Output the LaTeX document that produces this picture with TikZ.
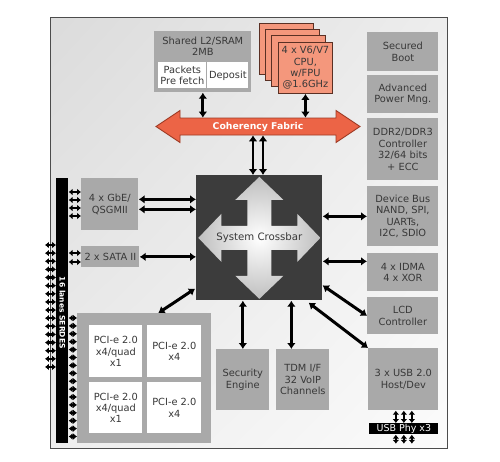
\documentclass[tikz,border=0pt]{standalone}
\usepackage{fontspec}
\setmainfont{DejaVu Sans}
\usetikzlibrary{arrows.meta,calc,shadings}

\definecolor{boxgray}{HTML}{A9A9A9}
\definecolor{txtgray}{HTML}{383838}
\definecolor{xbargray}{HTML}{3C3C3C}
\definecolor{cpufill}{HTML}{F4977C}
\definecolor{cpuline}{HTML}{5A3024}
\definecolor{fabfill}{HTML}{EC6446}
\definecolor{fabline}{HTML}{9E3A24}

\tikzset{
  sz/.style 2 args={minimum width=#1*0.02cm, minimum height=#2*0.02cm},
  lbl/.style={text=txtgray, align=center, inner sep=0pt, font=\fontsize{5.6}{6.5}\selectfont},
  blk/.style={lbl, fill=boxgray, anchor=north west},
  cell/.style={lbl, fill=white, anchor=north west},
  cpubox/.style={fill=cpufill, draw=cpuline, line width=0.5pt},
  bus/.style={line width=1.7pt, {Latex[length=3.4pt,width=5pt]}-{Latex[length=3.4pt,width=5pt]}},
  lane/.style={line width=1.3pt, {Latex[length=2.2pt,width=3.8pt]}-{Latex[length=2.2pt,width=3.8pt]}},
}

\begin{document}
\begin{tikzpicture}[x=0.02cm, y=-0.02cm]
\useasboundingbox (0,0) rectangle (500,461);

% chip outline
\shade[upper left=gray!28, upper right=gray!14, lower left=gray!14, lower right=gray!3] (50,17) rectangle (447,448);
\draw[gray!60!black, line width=0.5pt] (50,17) rectangle (447,448);

% shared L2
\node[blk, sz={97}{61}] (l2) at (154,31) {};
\node[lbl] (l2name) at ($(l2.north)+(0,15)$) {Shared L2/SRAM\\2MB};
\node[cell, sz={48}{26}] (prefetch) at (158,62) {Packets\\Pre fetch};
\node[cell, sz={41}{26}] (deposit) at (207,62) {Deposit};

% cpu cluster
\foreach \k in {3,2,1}
  \draw[cpubox] (278-6.3*\k,42-6.3*\k) rectangle ++(54,51);
\node[cpubox, lbl, sz={54}{51}, anchor=north west] (cpu) at (278,42) {4 x V6/V7\\CPU,\\w/FPU\\@1.6GHz};

% coherency fabric
\coordinate (fc) at (258,126.5);
\begin{scope}[shift={(fc)}]
  \fill[fabfill, draw=fabline, line width=0.5pt] (-102,0) -- (-78,-16) -- (-78,-8.5) -- (78,-8.5) -- (78,-16)
    -- (102,0) -- (78,16) -- (78,8.5) -- (-78,8.5) -- (-78,16) -- cycle;
\end{scope}
\node[text=white, inner sep=0pt, sz={156}{17}, font=\bfseries\fontsize{5.3}{6}\selectfont] (fabric) at (fc) {Coherency Fabric};

% right column
\node[blk, sz={71}{39}] (sboot) at (367,32) {Secured\\Boot};
\node[blk, sz={71}{38}] (power) at (367,75) {Advanced\\Power Mng.};
\node[blk, sz={71}{62}] (ddr) at (367,118) {DDR2/DDR3\\Controller\\32/64 bits\\+ ECC};
\node[blk, sz={71}{60}] (devbus) at (367,186) {Device Bus\\NAND, SPI,\\UARTs,\\I2C, SDIO};
\node[blk, sz={71}{38}] (idma) at (367,253) {4 x IDMA\\4 x XOR};
\node[blk, sz={71}{37}] (lcd) at (367,297) {LCD\\Controller};
\node[blk, sz={70}{62}] (usb) at (368,348) {3 x USB 2.0\\Host/Dev};
\node[fill=black, text=white, inner sep=0pt, sz={69}{11}, anchor=north west,
  font=\fontsize{5.4}{6}\selectfont] (usbphy) at (369,423) {USB Phy x3};

% system crossbar
\node[fill=xbargray, inner sep=0pt, sz={126}{125}, anchor=north west] (xbar) at (196,175) {};
\begin{scope}[shift={(xbar.center)}]
  \shade[inner color=white, outer color=gray!50]
    (0,-61) -- (24,-38) -- (12,-38) -- (12,-12) -- (38,-12) -- (38,-24) -- (61,0)
    -- (38,24) -- (38,12) -- (12,12) -- (12,38) -- (24,38) -- (0,61)
    -- (-24,38) -- (-12,38) -- (-12,12) -- (-38,12) -- (-38,24) -- (-61,0)
    -- (-38,-24) -- (-38,-12) -- (-12,-12) -- (-12,-38) -- (-24,-38) -- cycle;
\end{scope}
\node[lbl, font=\fontsize{5.8}{6.5}\selectfont] (xbarname) at (xbar.center) {System Crossbar};

% left side
\node[fill=black, inner sep=0pt, sz={12}{265}, anchor=north west] (serdes) at (56,178) {};
\node[rotate=-90, text=white, inner sep=0pt, font=\bfseries\fontsize{4.3}{5}\selectfont] (serdesname)
  at ($(serdes.center)+(0,2)$) {16 lanes SERDES};
\node[blk, sz={57}{52}] (gbe) at (81,178) {4 x GbE/\\QSGMII};
\node[blk, sz={58}{21}] (sata) at (81,246) {2 x SATA II};

\node[blk, sz={134}{130}] (pci) at (77,313) {};
\node[cell, sz={53}{52}] (pcia) at (89,325) {PCI-e 2.0\\x4/quad\\x1};
\node[cell, sz={54}{52}] (pcib) at (147,325) {PCI-e 2.0\\x4};
\node[cell, sz={53}{51}] (pcic) at (89,382) {PCI-e 2.0\\x4/quad\\x1};
\node[cell, sz={54}{51}] (pcid) at (147,382) {PCI-e 2.0\\x4};

% bottom
\node[blk, sz={53}{61}] (sec) at (216,349) {Security\\Engine};
\node[blk, sz={53}{61}] (tdm) at (276,349) {TDM I/F\\32 VoIP\\Channels};

% serdes lanes
\foreach \y in {192,200,208,216}
  \draw[lane] (serdes.east |- 0,\y) -- (gbe.west |- 0,\y);
\foreach \y in {253,262}
  \draw[lane] (serdes.east |- 0,\y) -- (sata.west |- 0,\y);
\foreach \i [evaluate=\i as \y using 318+7.9*\i] in {0,...,15}
  \draw[lane] (serdes.east |- 0,\y) -- (pci.west |- 0,\y);
\foreach \i [evaluate=\i as \y using 245+8.13*\i] in {0,...,15}
  \draw[lane] (45,\y) -- (serdes.west |- 0,\y);
\foreach \dx in {-8,0,8}{
  \draw[lane] ([xshift=\dx*0.02cm]usbphy.north) -- ([xshift=\dx*0.02cm]usbphy.north |- usb.south);
  \draw[lane] ([xshift=\dx*0.02cm]usbphy.south) -- ++(0,9);
}

% buses
\draw[bus] (l2.south) -- (l2.south |- fabric.north);
\draw[bus] (cpu.south) -- (cpu.south |- fabric.north);
\foreach \dx in {-5,5}
  \draw[bus] ([xshift=\dx*0.02cm]fabric.south) -- ([xshift=\dx*0.02cm]fabric.south |- xbar.north);
\foreach \dy in {5,-5}
  \draw[bus] ([yshift=\dy*0.02cm]gbe.east) -- ([yshift=\dy*0.02cm]gbe.east -| xbar.west);
\draw[bus] (sata.east) -- (sata.east -| xbar.west);
\draw[bus] (xbar.east |- devbus.west) -- (devbus.west);
\draw[bus] ([yshift=0.22cm]xbar.east |- idma.west) -- ([yshift=0.22cm]idma.west);
\draw[bus] ([yshift=-0.95cm]xbar.east) -- (lcd.west);
\draw[bus] ($(xbar.south east)+(-14,2)$) -- (usb.north west);
\draw[bus] ($(xbar.south west)+(-1,-12)$) -- ($(pci.north)+(14,0)$);
\draw[bus] (xbar.south -| sec.north) -- (sec.north);
\draw[bus] ([xshift=-0.23cm]xbar.south -| tdm.north) -- ([xshift=-0.23cm]tdm.north);

\end{tikzpicture}
\end{document}
